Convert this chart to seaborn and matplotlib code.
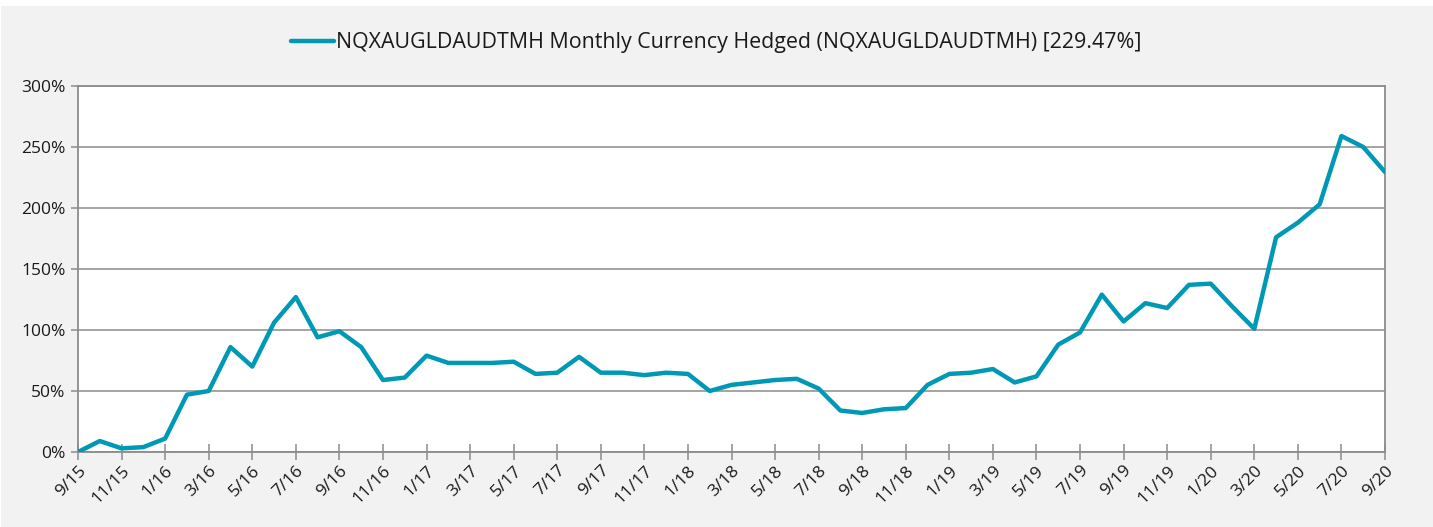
import seaborn as sns
import pandas as pd
import numpy as np
import matplotlib.pyplot as plt
from matplotlib.patches import Rectangle

# monthly cumulative return, 9/15 .. 9/20 (%)
months = pd.date_range('2015-09-01', '2020-09-01', freq='MS')
returns = [0, 9, 3, 4, 11, 47, 50, 86, 70, 106,
           127, 94, 99, 86, 59, 61, 79, 73, 73, 73,
           74, 64, 65, 78, 65, 65, 63, 65, 64, 50,
           55, 57, 59, 60, 52, 34, 32, 35, 36, 55,
           64, 65, 68, 57, 62, 88, 98, 129, 107, 122,
           118, 137, 138, 119, 101, 176, 188, 203, 259, 250,
           229.47]
series_name = 'NQXAUGLDAUDTMH Monthly Currency Hedged (NQXAUGLDAUDTMH) [229.47%]'
y_ticks = [0, 50, 100, 150, 200, 250, 300]

data = pd.DataFrame({'idx': np.arange(len(months)), 'ret': returns,
                     'label': [f'{d.month}/{d.strftime("%y")}' for d in months]})

sns.set_style('white')
plt.rcParams['font.family'] = ['Open Sans', 'DejaVu Sans']

fig = plt.figure(figsize=(14.33, 5.27), dpi=100, facecolor='white')
fig.patches.append(Rectangle((1 / 1433, 0), 1, (527 - 6) / 527, transform=fig.transFigure,
                             facecolor='#f2f2f2', edgecolor='none', zorder=-10))
ax = fig.add_axes([78 / 1433, 1 - 452 / 527, (1385 - 78) / 1433, (452 - 86) / 527])
ax.set_facecolor('white')

line_color = '#0099b5'
sns.lineplot(data=data, x='idx', y='ret', ax=ax, color=line_color, linewidth=3.2,
             label=series_name, zorder=3)

ax.set_xlim(0, len(months) - 1)
ax.set_ylim(0, 300)
ax.set_yticks(y_ticks)
ax.set_yticklabels([f'{v}%' for v in y_ticks])
ax.set_xticks(data['idx'][::2])
ax.set_xticklabels(data['label'][::2], rotation=45, ha='right', rotation_mode='anchor')
ax.set_xlabel('')
ax.set_ylabel('')

ax.yaxis.grid(True, color='#8c8c8c', linewidth=1.1)
for s in ax.spines.values():
    s.set_color('#8c8c8c')
    s.set_linewidth(1.3)
ax.tick_params(axis='y', direction='out', length=5, width=1.1, color='#8c8c8c',
               labelsize=12.5, labelcolor='#1a1a1a', pad=4)
ax.tick_params(axis='x', direction='inout', length=11, width=1.1, color='#8c8c8c',
               labelsize=12.5, labelcolor='#1a1a1a', pad=2)
ax.tick_params(axis='x', which='major', bottom=True)
ax.tick_params(axis='y', which='major', left=True)

leg = ax.legend(loc='upper center', bbox_to_anchor=(0.5 + (716 - (78 + 1385) / 2) / 1307, 1.20),
                frameon=False, fontsize=15.4, handlelength=2.0, handletextpad=0.1)
for t in leg.get_texts():
    t.set_color('#1a1a1a')

plt.savefig('out.png', dpi=100, facecolor=fig.get_facecolor())
